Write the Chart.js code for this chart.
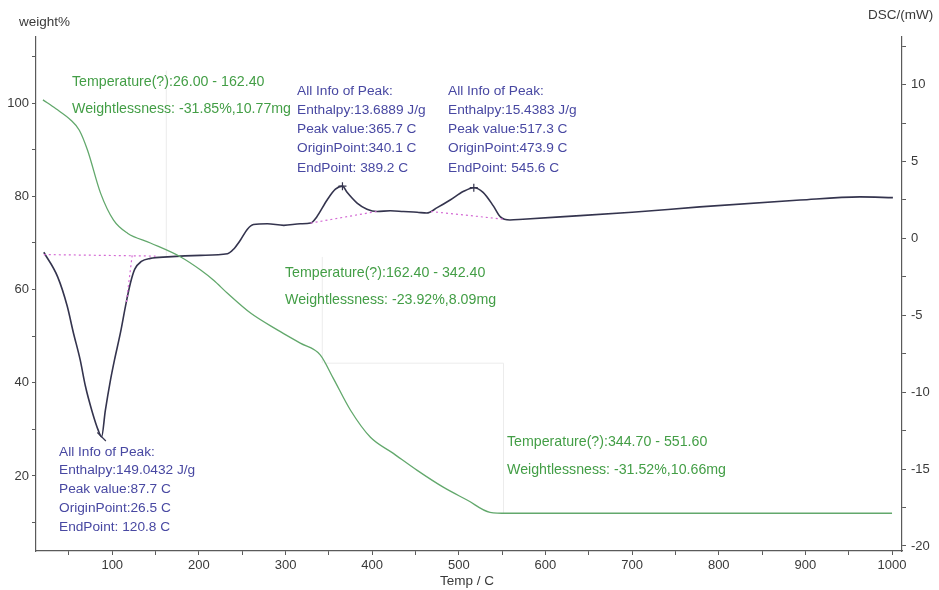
<!DOCTYPE html>
<html>
<head>
<meta charset="utf-8">
<script src="https://cdn.jsdelivr.net/npm/chart.js@4.4.1/dist/chart.umd.min.js"></script>
<style>
  html, body { margin: 0; padding: 0; background: #fff; }
  canvas { display: block; }
</style>
</head>
<body>
<canvas id="chart" width="939" height="590"></canvas>
<script>
// TG curve: furnace temperature (C) against remaining weight (%)
const tgTemp   = [20, 35, 52, 62, 71.5, 86.5, 101.5, 117.6, 144, 179, 202, 217, 233, 260, 291, 317, 340, 355, 375, 398, 424, 452, 482, 510, 536, 556, 700, 850, 1000];
const tgWeight = [100.7, 98.8, 96.4, 94.2, 89.9, 80.7, 74.9, 72.1, 70.0, 67.0, 64.2, 62.0, 59.2, 54.9, 51.3, 48.5, 46.0, 41.0, 34.1, 28.3, 24.9, 21.2, 17.6, 14.8, 12.2, 12.0, 12.0, 12.0, 12.0];

// DSC curve: temperature (C) against heat flow (mW)
const dscTemp  = [21, 37, 48, 55, 63, 69, 77, 84, 87.7, 92, 98, 102.6, 109.6, 115.3, 121, 126, 133.6, 144, 164, 202, 233, 240, 248, 256, 263, 279, 298, 317, 329, 336, 348, 357.6, 365.7, 371, 382.6, 394, 405.6, 421, 436, 452, 463, 475, 490, 505, 517.3, 528, 540, 548, 559, 574, 617, 700, 778, 894, 963, 1001];
const dscPower = [-0.9, -2.5, -4.4, -6.1, -7.9, -9.6, -11.3, -12.5, -12.9, -11.2, -9.2, -7.9, -6.1, -4.4, -2.9, -2.0, -1.5, -1.3, -1.2, -1.1, -1.0, -0.7, -0.1, 0.6, 0.9, 0.95, 0.85, 0.95, 1.0, 1.4, 2.5, 3.2, 3.4, 3.0, 2.3, 1.9, 1.75, 1.8, 1.75, 1.7, 1.65, 2.0, 2.5, 3.05, 3.3, 3.0, 2.1, 1.4, 1.2, 1.25, 1.4, 1.7, 2.05, 2.5, 2.7, 2.65];

// integration baselines of the three DSC peaks
const endoBaseTemp  = [21, 150];
const endoBasePower = [-1.05, -1.15];
const endoEdgeTemp  = [123, 116];
const endoEdgePower = [-1.1, -4.3];
const exo1BaseTemp  = [329, 405];
const exo1BasePower = [1.0, 1.75];
const exo2BaseTemp  = [468, 552];
const exo2BasePower = [1.75, 1.25];

// peak positions
const peakTemp  = [87.7, 365.7, 517.3];
const peakPower = [-12.9, 3.4, 3.3];

// TG step boundaries (C) and the weight levels between them (%)
const stepTemp   = [162.4, 342.4, 344.7, 551.6];
const stepWeight = [107, 67, 44.2, 12.0];

// axis ticks
const tempMajor   = [100, 200, 300, 400, 500, 600, 700, 800, 900, 1000];
const tempMinor   = [50, 150, 250, 350, 450, 550, 650, 750, 850, 950];
const weightMajor = [20, 40, 60, 80, 100];
const weightMinor = [10, 30, 50, 70, 90, 110];
const dscMajor    = [-20, -15, -10, -5, 0, 5, 10];
const dscMinor    = [-17.5, -12.5, -7.5, -2.5, 2.5, 7.5, 12.5];

// annotation texts
const stepNotes = [
  ['Temperature(?):26.00 - 162.40', 'Weightlessness: -31.85%,10.77mg'],
  ['Temperature(?):162.40 - 342.40', 'Weightlessness: -23.92%,8.09mg'],
  ['Temperature(?):344.70 - 551.60', 'Weightlessness: -31.52%,10.66mg']
];
const peakNotes = [
  ['All Info of Peak:', 'Enthalpy:13.6889 J/g', 'Peak value:365.7 C', 'OriginPoint:340.1 C', 'EndPoint: 389.2 C'],
  ['All Info of Peak:', 'Enthalpy:15.4383 J/g', 'Peak value:517.3 C', 'OriginPoint:473.9 C', 'EndPoint: 545.6 C'],
  ['All Info of Peak:', 'Enthalpy:149.0432 J/g', 'Peak value:87.7 C', 'OriginPoint:26.5 C', 'EndPoint: 120.8 C']
];

const FONT = '"Liberation Sans", Arial, sans-serif';
const GREEN_TEXT = '#439e46';
const BLUE_TEXT = '#4848a2';

// where each annotation block sits on the canvas
const stepNoteLayout = [
  { x: 72,  y: 82,  gap: 27 },
  { x: 285, y: 273, gap: 27 },
  { x: 507, y: 442, gap: 28 }
];
const peakNoteLayout = [
  { x: 297, y: 91,  gap: 19.2 },
  { x: 448, y: 91,  gap: 19.2 },
  { x: 59,  y: 452, gap: 18.7 }
];

const pts = (xs, ys) => xs.map((x, i) => ({ x: x, y: ys[i] }));

function fixedTicks(major, minor) {
  return function (scale) {
    scale.ticks = major.concat(minor).sort((a, b) => a - b).map(v => ({ value: v }));
  };
}
function majorLabel(major) {
  return function (v) { return major.includes(v) ? String(v) : ''; };
}

// faint TG step markers behind the curves
const stepLines = {
  id: 'stepLines',
  beforeDatasetsDraw(chart) {
    const { ctx, scales } = chart;
    const x = scales.x, y = scales.yW;
    ctx.save();
    ctx.strokeStyle = '#ececec';
    ctx.lineWidth = 1;
    ctx.beginPath();
    ctx.moveTo(x.getPixelForValue(stepTemp[0]), y.getPixelForValue(stepWeight[0]));
    ctx.lineTo(x.getPixelForValue(stepTemp[0]), y.getPixelForValue(stepWeight[1]));
    ctx.moveTo(x.getPixelForValue(stepTemp[1]), y.getPixelForValue(stepWeight[1]));
    ctx.lineTo(x.getPixelForValue(stepTemp[1]), y.getPixelForValue(stepWeight[2]));
    ctx.moveTo(x.getPixelForValue(stepTemp[2]), y.getPixelForValue(stepWeight[2]));
    ctx.lineTo(x.getPixelForValue(stepTemp[3]), y.getPixelForValue(stepWeight[2]));
    ctx.lineTo(x.getPixelForValue(stepTemp[3]), y.getPixelForValue(stepWeight[3]));
    ctx.stroke();
    ctx.restore();
  }
};

// axis titles and the analysis notes
const notes = {
  id: 'notes',
  afterDraw(chart) {
    const ctx = chart.ctx;
    ctx.save();
    ctx.textBaseline = 'middle';
    ctx.textAlign = 'left';
    ctx.font = '13.5px ' + FONT;
    ctx.fillStyle = '#3a3a3a';
    ctx.fillText('weight%', 19, 22);
    ctx.fillText('DSC/(mW)', 868, 15);
    ctx.textAlign = 'center';
    ctx.fillText('Temp / C', 467, 581);

    ctx.textAlign = 'left';
    ctx.font = '14.2px ' + FONT;
    ctx.fillStyle = GREEN_TEXT;
    stepNotes.forEach((lines, i) => {
      const p = stepNoteLayout[i];
      lines.forEach((t, j) => ctx.fillText(t, p.x, p.y + j * p.gap));
    });
    ctx.font = '13.7px ' + FONT;
    ctx.fillStyle = BLUE_TEXT;
    peakNotes.forEach((lines, i) => {
      const p = peakNoteLayout[i];
      lines.forEach((t, j) => ctx.fillText(t, p.x, p.y + j * p.gap));
    });
    ctx.restore();
  }
};

const baselineStyle = {
  borderColor: '#d46ad4',
  borderWidth: 1.2,
  borderDash: [2, 3],
  pointRadius: 0,
  showLine: true,
  yAxisID: 'yD'
};

new Chart(document.getElementById('chart'), {
  type: 'scatter',
  data: {
    datasets: [
      Object.assign({ label: 'endo baseline', data: pts(endoBaseTemp, endoBasePower) }, baselineStyle),
      Object.assign({ label: 'endo edge', data: pts(endoEdgeTemp, endoEdgePower) }, baselineStyle),
      Object.assign({ label: 'exo baseline 1', data: pts(exo1BaseTemp, exo1BasePower) }, baselineStyle),
      Object.assign({ label: 'exo baseline 2', data: pts(exo2BaseTemp, exo2BasePower) }, baselineStyle),
      {
        label: 'TG',
        data: pts(tgTemp, tgWeight),
        yAxisID: 'yW',
        showLine: true,
        borderColor: '#62a86c',
        borderWidth: 1.3,
        pointRadius: 0,
        cubicInterpolationMode: 'monotone'
      },
      {
        label: 'DSC',
        data: pts(dscTemp, dscPower),
        yAxisID: 'yD',
        showLine: true,
        borderColor: '#34344e',
        borderWidth: 1.6,
        pointRadius: 0,
        cubicInterpolationMode: 'monotone'
      },
      {
        label: 'peaks',
        data: pts(peakTemp, peakPower),
        yAxisID: 'yD',
        showLine: false,
        pointStyle: ['line', 'cross', 'cross'],
        rotation: [45, 0, 0],
        pointRadius: [6, 4, 4],
        borderColor: '#34344e',
        borderWidth: 1.2
      }
    ]
  },
  options: {
    responsive: false,
    devicePixelRatio: 1,
    animation: false,
    layout: { padding: { top: 37, left: 0, right: 0, bottom: 0 } },
    plugins: { legend: { display: false }, tooltip: { enabled: false }, title: { display: false } },
    scales: {
      x: {
        type: 'linear',
        position: 'bottom',
        min: 12,
        max: 1011.5,
        afterBuildTicks: fixedTicks(tempMajor, tempMinor),
        afterFit(scale) { scale.height = 39; },
        border: { display: true, color: '#5a5a5a', width: 1.2 },
        grid: { display: true, drawOnChartArea: false, drawTicks: true, tickLength: 4, color: '#5a5a5a' },
        ticks: {
          autoSkip: false, maxRotation: 0, padding: 3,
          color: '#3a3a3a', font: { family: FONT, size: 13 },
          callback: majorLabel(tempMajor)
        }
      },
      yW: {
        type: 'linear',
        position: 'left',
        min: 3.9,
        max: 114.2,
        afterBuildTicks: fixedTicks(weightMajor, weightMinor),
        afterFit(scale) { scale.width = 36; },
        border: { display: true, color: '#5a5a5a', width: 1.2 },
        grid: { display: true, drawOnChartArea: false, drawTicks: true, tickLength: 4, color: '#5a5a5a' },
        ticks: {
          autoSkip: false, padding: 3,
          color: '#3a3a3a', font: { family: FONT, size: 13 },
          callback: majorLabel(weightMajor)
        }
      },
      yD: {
        type: 'linear',
        position: 'right',
        min: -20.33,
        max: 13.1,
        afterBuildTicks: fixedTicks(dscMajor, dscMinor),
        afterFit(scale) { scale.width = 37; },
        border: { display: true, color: '#5a5a5a', width: 1.2 },
        grid: { display: true, drawOnChartArea: false, drawTicks: true, tickLength: 4, color: '#5a5a5a' },
        ticks: {
          autoSkip: false, padding: 5,
          color: '#3a3a3a', font: { family: FONT, size: 13 },
          callback: majorLabel(dscMajor)
        }
      }
    }
  },
  plugins: [stepLines, notes]
});
</script>
</body>
</html>
